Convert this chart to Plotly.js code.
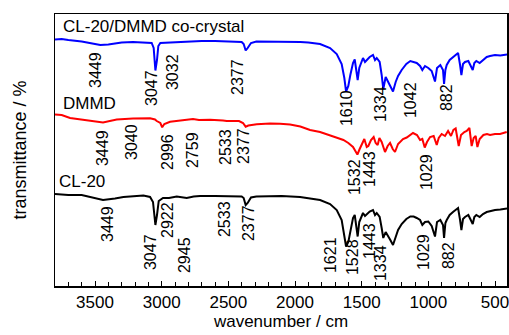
<!DOCTYPE html>
<html><head><meta charset="utf-8">
<script src="https://cdn.plot.ly/plotly-3.0.1.min.js"></script>
<style>html,body{margin:0;padding:0;background:#fff}#c{width:509px;height:335px}</style>
</head><body><div id="c"></div>
<script>
// CL-20/DMMD co-crystal (blue)
const wnCo = [3800,3750,3700,3600,3500,3460,3400,3300,3215,3100,3075,3060,3047,3035,3025,3010,2950,2900,2800,2700,2600,2500,2400,2385,2370,2355,2330,2290,2200,2100,1960,1900,1812,1737,1687,1650,1630,1617,1600,1585,1565,1552,1542,1530,1518,1500,1490,1475,1462,1440,1415,1400,1387,1365,1350,1338,1320,1300,1285,1265,1245,1227,1200,1165,1135,1110,1087,1062,1045,1025,1000,975,950,935,910,890,882,872,862,840,815,790,777,762,752,740,725,700,685,667,655,640,615,590,562,537,500,460,437,410];
const tCo = [246.5,247,246,244.5,242,241,241.5,243.5,244,243.5,243,238,215.5,226,240,243,243.5,244,244.5,245,245,244.5,244,242,235.5,238,243,244.5,244.5,244.5,244,243.5,242,238,232,222,208,194.5,200,211,223,226.5,218,206,218,226,228,224,226,229,231,226,228,224,211,197,209,204,200,194.5,204,210,216,222,225,224,223,220,216,220,218,215,204.5,218,221,216,202,216,221,226,229,232,233,221,211,222,224,225,220,216,223,225,223,226,229,230,231,230.5,231,231.5];

// DMMD (red)
const wnDMMD = [3800,3750,3687,3600,3500,3440,3337,3215,3087,3050,3037,3010,2996,2980,2937,2840,2800,2765,2720,2637,2540,2512,2420,2390,2370,2350,2287,2187,2112,2037,1960,1887,1812,1737,1680,1637,1600,1565,1545,1532,1515,1500,1480,1462,1450,1430,1410,1395,1380,1367,1350,1325,1305,1287,1267,1250,1227,1190,1162,1115,1085,1062,1045,1027,1010,987,960,937,922,900,875,852,830,812,795,772,755,730,712,692,675,660,645,632,615,587,560,537,500,462,440,412];
const tDMMD = [171.5,171,168,166.5,164.5,163.5,166.5,167.5,167.7,166.5,165,163,158.7,162,164.3,166,166,167,166,166.3,165.5,165,165,163,159.3,160.5,161.7,162.5,162.3,161.5,159.5,156,154,151,148,146,143,139,135,131.5,137,142,147,139,140,146,149,143,141,148,144,134,140,143,137,134,142,147,148.5,153,151,146,147,138.5,144,149,150,141,148,152,150,155,150,156,157.5,140,151,154,155,158,140,148,150,139,147,151,152,151,152,152,153,154];

// CL-20 (black)
const wnCL20 = [3800,3750,3700,3600,3500,3440,3350,3287,3137,3087,3065,3047,3035,3022,2990,2945,2887,2812,2760,2712,2600,2537,2400,2385,2370,2355,2330,2290,2187,2100,1962,1900,1812,1737,1687,1650,1630,1617,1600,1585,1565,1552,1542,1530,1518,1500,1490,1475,1462,1440,1415,1400,1387,1365,1350,1338,1320,1300,1285,1265,1245,1227,1200,1165,1135,1110,1087,1062,1045,1025,1000,975,950,935,910,890,882,872,862,840,815,790,777,762,752,740,725,700,685,667,655,640,615,590,562,537,500,460,437,410];
const tCL20 = [92,91.5,91,91,88,86,87.5,89,90.5,89,84,61,71,85,88,88,89.5,88,89.5,90,90,90,89.5,88,81,83,88.5,89.5,90,90,89,88,86,82,76,66,52,39.5,44,55,68,71,62,49.5,64,71,73,70,72,74.5,76,71,73,69,58,48,54,50,46,41,49,56,62,67,69.5,69.5,68,66,61,64,64.5,60,49.5,64,66,61,48,63,66,71,74,77,78,66,56,67,69,71,66,62,69,71,69,72,74,75,76,76.5,77,77.5];

const seriesNames = ["CL-20/DMMD co-crystal", "DMMD", "CL-20"];
const peaksCo = ["3449","3047","3032","2377","1610","1334","1042","882"];
const peaksDMMD = ["3449","3040","2996","2759","2533","2377","1532","1443","1029"];
const peaksCL20 = ["3449","3047","2922","2945","2533","2377","1621","1528","1443","1334","1029","882"];

// label placement (layout only)
const posCo = [[3500,216],[3080,198],[2922,214],[2435,209],[1617,178],[1362,182],[1137,186],[867,188]];
const posDMMD = [[3447,138],[3230,144],[2960,134],[2772,136],[2525,139],[2390,140],[1557,109],[1445,117],[1017,114]];
const posCL20 = [[3410,62],[3087,34],[2960,66],[2832,31],[2532,67],[2352,63],[1737,31],[1572,29],[1445,45],[1362,23],[1040,34],[852,30]];

const FONT = "Liberation Sans, Arial, sans-serif";
const traces = [
  {x: wnCo, y: tCo, mode: "lines", line: {color: "#0000ff", width: 2}},
  {x: wnDMMD, y: tDMMD, mode: "lines", line: {color: "#ff0000", width: 2}},
  {x: wnCL20, y: tCL20, mode: "lines", line: {color: "#000000", width: 2}}
];
const ann = [];
function addPeaks(labels, pos) {
  labels.forEach((t, i) => ann.push({x: pos[i][0], y: pos[i][1], xref: "x", yref: "y", text: t, showarrow: false,
    textangle: -90, font: {family: FONT, size: 16, color: "#000"}, xanchor: "center", yanchor: "middle"}));
}
addPeaks(peaksCo, posCo); addPeaks(peaksDMMD, posDMMD); addPeaks(peaksCL20, posCL20);
const namePos = [[3752,259.5],[3752,183],[3785,104.3]];
seriesNames.forEach((n, i) => ann.push({x: namePos[i][0], y: namePos[i][1], xref: "x", yref: "y", text: n, showarrow: false,
  xanchor: "left", yanchor: "middle", font: {family: FONT, size: 17, color: "#000"}}));

const layout = {
  width: 509, height: 335,
  margin: {l: 55, r: 2, t: 14, b: 49},
  paper_bgcolor: "#fff", plot_bgcolor: "#fff",
  showlegend: false,
  font: {family: FONT, color: "#000"},
  xaxis: {range: [3800, 410], showgrid: false, zeroline: false, showline: true, mirror: true,
    linecolor: "#000", linewidth: 1.5, ticks: "inside", ticklen: 5, tickwidth: 1, tickcolor: "#000",
    dtick: 500, tick0: 500, tickfont: {size: 17, family: FONT}, ticklabeloverflow: "allow",
    minor: {dtick: 100, tick0: 0, ticks: "inside", ticklen: 4, tickcolor: "#000", showgrid: false},
    title: {text: "wavenumber / cm", font: {size: 17, family: FONT}, standoff: 4}},
  yaxis: {range: [0, 272], showgrid: false, zeroline: false, showline: true, mirror: true,
    linecolor: "#000", linewidth: 1.5, ticks: "", showticklabels: false,
    title: {text: "transmittance / %", font: {size: 18, family: FONT}, standoff: 22}},
  annotations: ann
};
Plotly.newPlot("c", traces, layout, {staticPlot: true, displayModeBar: false});
</script></body></html>
